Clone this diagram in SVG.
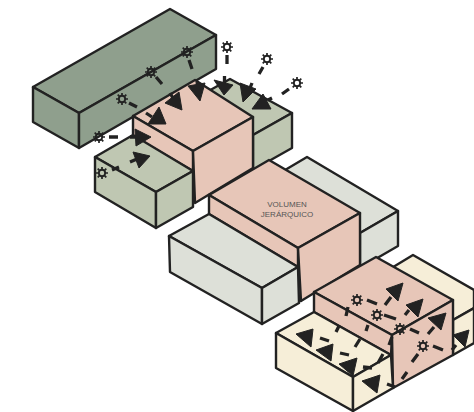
<svg xmlns="http://www.w3.org/2000/svg" width="474" height="412" viewBox="0 0 474 412">
<style>
.f{stroke:#222;stroke-width:2.4;stroke-linejoin:round}
.dk{fill:#8f9f8d}.md{fill:#bfc7b2}.pl{fill:#dde0d8}.pk{fill:#e7c6b8}.cr{fill:#f6eed8}
.d{stroke:#222;stroke-width:3.3;fill:none}
.h{fill:#222;stroke:#222;stroke-width:1;stroke-linejoin:round}
.g{stroke:#222;fill:none}
text{font-family:"Liberation Sans",Arial,sans-serif;font-size:8px;fill:#555;text-anchor:middle}
</style>
<defs>
<g id="gear" class="g">
<circle r="3.2" stroke-width="1.9"/>
<path stroke-width="1.7" d="M0-6V-3M0 3V6M-6 0H-3M3 0H6M-4.300-4.300L-2.100-2.100M2.100 2.100L4.300 4.300M4.300-4.300L2.100-2.100M-2.100 2.100L-4.300 4.300"/>
</g>
</defs>
<g id="volumen-oscuro" class="f">
<polygon class="dk" points="33,87 170,9 216,35 79,113"/>
<polygon class="dk" points="33,87 79,113 79,148 33,122"/>
<polygon class="dk" points="79,113 216,35 216,69 79,148"/>
</g>
<g id="volumen-medio-posterior" class="f">
<polygon class="md" points="230,79 292,113 253,135 205,93"/>
<polygon class="md" points="253,135 292,113 292,148 253,170"/>
</g>
<g id="volumen-rosa-1" class="f">
<polygon class="pk" points="133,116 195,80 253,117 193,151"/>
<polygon class="pk" points="133,116 193,151 193,171 133,136"/>
<polygon class="pk" points="193,151 253,117 253,168 195,203"/>
</g>
<g id="volumen-medio-frontal" class="f">
<polygon class="md" points="95,157 133,135 193,171 156,192"/>
<polygon class="md" points="95,157 156,192 156,228 95,192"/>
<polygon class="md" points="156,192 193,171 193,207 156,228"/>
</g>
<g id="volumen-palido-posterior" class="f">
<polygon class="pl" points="307,157 398,211 360,233 280,173"/>
<polygon class="pl" points="360,233 398,211 398,246 360,268"/>
</g>
<g id="volumen-jerarquico">
<polygon class="f pk" points="209,195 269,160 360,213 298,248"/>
<polygon class="f pk" points="209,195 298,248 298,267 209,214"/>
<polygon class="f pk" points="298,248 360,213 360,265 301,301"/>
<text x="287" y="207">VOLUMEN</text>
<text x="287" y="217">JERÁRQUICO</text>
</g>
<g id="volumen-palido-frontal" class="f">
<polygon class="pl" points="169,236 209,214 298,267 262,288"/>
<polygon class="pl" points="169,236 262,288 262,324 170,272"/>
<polygon class="pl" points="262,288 298,267 299,303 262,324"/>
</g>
<g id="volumen-crema-posterior" class="f">
<polygon class="cr" points="413,255 474,290 474,308 453,320 380,275"/>
<polygon class="cr" points="453,320 474,308 474,343 453,355"/>
</g>
<g id="volumen-rosa-3" class="f">
<polygon class="pk" points="314,292 376,257 453,300 392,335"/>
<polygon class="pk" points="314,292 392,335 391,355 314,312"/>
<polygon class="pk" points="392,335 453,300 453,355 393,388"/>
</g>
<g id="volumen-crema-frontal" class="f">
<polygon class="cr" points="276,333 314,312 391,355 353,377"/>
<polygon class="cr" points="276,333 353,377 353,411 276,368"/>
<polygon class="cr" points="353,377 391,355 393,388 353,411"/>
</g>
<g id="conectores">
<path class="d" d="M227 55V64M224.500 76L224.500 85M263 67L259 74M252 83L250 88M289 89L282 94M272 98L268 100M189 60L192 69M197 82L198 87M156 77L162 84M170 93L173 98M129 103L137 107M146 113L152 117M109 137H118M130 137H137M112 170L119 167M130 162L137 159"/>
<path class="d" d="M367 300L377 304M385 305L391 297M384 315L396 319M405 315L409 310M410 329L419 333M428 334L434 327M433 346L443 350M452 350L456 345"/>
<path class="d" d="M348 307L346 316M339 326L336 332M320 338L329 341M368 325L366 331M360 339L355 347M349 355L340 353M392 337L389 345M383 354L378 363M372 368L363 367M418 354L412 362M407 372L402 379M395 387L387 384"/>
<polygon class="h" points="214,80 233,85 224,95"/>
<polygon class="h" points="240,83 256,89 243,102"/>
<polygon class="h" points="263,94 271,109 252,109"/>
<polygon class="h" points="188,86 205,83 200,101"/>
<polygon class="h" points="165,103 179,92 182,110"/>
<polygon class="h" points="148,124 159,107 166,124"/>
<polygon class="h" points="135,129 151,137 136,146"/>
<polygon class="h" points="133,152 150,156 139,168"/>
<polygon class="h" points="386,289 403,283 398,301"/>
<polygon class="h" points="406,305 423,299 418,317"/>
<polygon class="h" points="428,318 446,313 441,330"/>
<polygon class="h" points="453,335 469,330 465,347"/>
<polygon class="h" points="296,334 313,329 311,347"/>
<polygon class="h" points="316,350 333,344 331,361"/>
<polygon class="h" points="339,364 357,358 353,376"/>
<polygon class="h" points="362,381 380,375 377,393"/>
<use href="#gear" x="227" y="47"/>
<use href="#gear" x="267" y="59"/>
<use href="#gear" x="297" y="83"/>
<use href="#gear" x="187" y="52"/>
<use href="#gear" x="151" y="72"/>
<use href="#gear" x="122" y="99"/>
<use href="#gear" x="99" y="137"/>
<use href="#gear" x="102" y="173"/>
<use href="#gear" x="357" y="300"/>
<use href="#gear" x="377" y="315"/>
<use href="#gear" x="400" y="329"/>
<use href="#gear" x="423" y="346"/>
</g>
</svg>
